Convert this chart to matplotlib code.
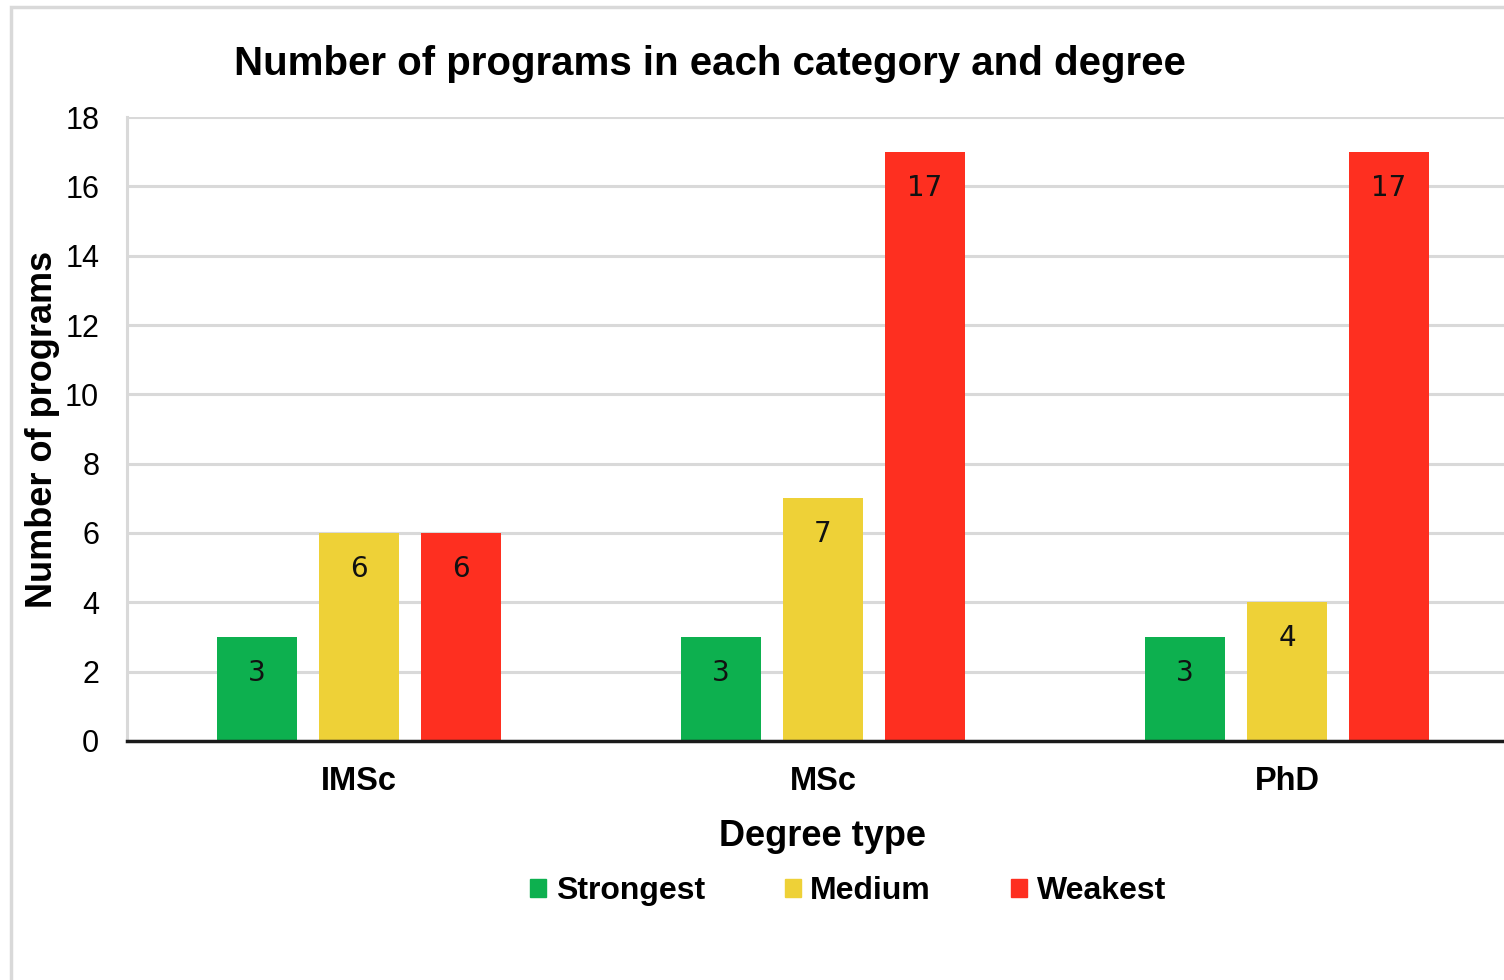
import numpy as np
import matplotlib
matplotlib.use("Agg")
import matplotlib.pyplot as plt
from matplotlib.patches import Rectangle, Patch

degrees = ["IMSc", "MSc", "PhD"]
categories = ["Strongest", "Medium", "Weakest"]
strongest = [3, 3, 3]
medium = [6, 7, 4]
weakest = [6, 17, 17]
colors = ["#0DB04F", "#EED137", "#FE2F20"]

plt.rcParams['font.family'] = ['Liberation Sans', 'DejaVu Sans']

fig = plt.figure(figsize=(15.04, 9.8), dpi=100)
ax = fig.add_axes([127/1504, 1-741/980, (1519-127)/1504, (741-117)/980])

# outer chart border
fig.patches.append(Rectangle((11/1504, -0.1), 1.2, 1-7/980+0.1, transform=fig.transFigure,
                             fill=False, edgecolor="#D9D9D9", lw=2.5))

ind = np.arange(len(degrees))
width = 0.172
step = 0.22
for i, (vals, col) in enumerate(zip([strongest, medium, weakest], colors)):
    b = ax.bar(ind + (i-1)*step, vals, width, color=col, zorder=3)
    for rect, v in zip(b, vals):
        ax.annotate(str(v), (rect.get_x()+rect.get_width()/2, v), xytext=(0, -26),
                    textcoords='offset points', ha='center', va='center',
                    fontsize=20, family='DejaVu Sans', color='#111111', zorder=4)

ax.set_xlim(-0.5, 2.5)
ax.set_ylim(0, 18)
ax.set_yticks(np.arange(0, 19, 2))
ax.set_xticks(ind)
ax.set_xticklabels(degrees, fontsize=23.5, fontweight='bold')
ax.tick_params(axis='y', labelsize=22, length=0, pad=20)
ax.tick_params(axis='x', length=0, pad=18)
ax.grid(axis='y', color='#D9D9D9', lw=2.2, zorder=0)
for s in ['top', 'right']:
    ax.spines[s].set_visible(False)
ax.spines['left'].set_color('#D9D9D9')
ax.spines['left'].set_linewidth(2.2)
ax.spines['bottom'].set_color('#1a1a1a')
ax.spines['bottom'].set_linewidth(2.5)
ax.spines['bottom'].set_zorder(5)

ax.set_xlabel('Degree type', fontsize=26, fontweight='bold', labelpad=16)
ax.set_ylabel('Number of programs', fontsize=26, fontweight='bold', labelpad=4)
fig.text(710/1504, 1-64/980, 'Number of programs in each category and degree',
         ha='center', va='center', fontsize=29, fontweight='bold')

handles = [Patch(color=c) for c in colors]
fig.legend(handles, categories, loc='center', bbox_to_anchor=(848/1504, 1-891/980), ncol=3,
           frameon=False, prop={'size': 23, 'weight': 'bold'}, handlelength=0.5,
           handleheight=0.5, handletextpad=0.3, columnspacing=2.5)

fig.savefig('out.png', dpi=100)
